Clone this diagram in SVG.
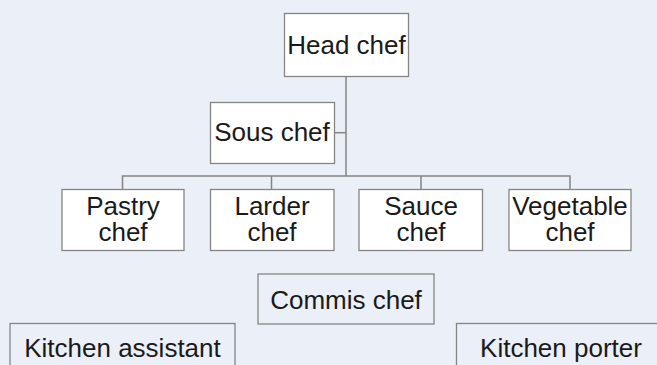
<svg xmlns="http://www.w3.org/2000/svg" width="657" height="365" viewBox="0 0 657 365">
<style>
.box{fill:#ffffff;stroke:#858585;stroke-width:1.3}
.plain{fill:#eaeff8;stroke:#858585;stroke-width:1.3}
.t{font-family:"Liberation Sans",Arial,sans-serif;font-size:26px;fill:#1a1a1a;text-anchor:middle}
.c{fill:none;stroke:#858585;stroke-width:1.5}
</style>
<rect x="0" y="0" width="657" height="365" fill="#eaeff8"/>
<g id="connectors">
<path class="c" d="M346 76 V176" stroke-width="2"/>
<path class="c" d="M334 132.7 H346"/>
<path class="c" d="M122.5 189 V176 H570 V189"/>
<path class="c" d="M271.5 176 V189"/>
<path class="c" d="M421 176 V189"/>
</g>
<g id="head-chef"><rect class="box" x="284.5" y="13.5" width="124" height="63"/><text class="t" x="346.5" y="53.5">Head chef</text></g>
<g id="sous-chef"><rect class="box" x="210.5" y="102.5" width="124" height="61"/><text class="t" x="272" y="140.5">Sous chef</text></g>
<g id="pastry-chef"><rect class="box" x="62" y="189.5" width="122" height="61"/><text class="t" x="123" y="214.5">Pastry</text><text class="t" x="123" y="240.5">chef</text></g>
<g id="larder-chef"><rect class="box" x="210.5" y="189.5" width="123.5" height="61"/><text class="t" x="272" y="214.5">Larder</text><text class="t" x="272" y="240.5">chef</text></g>
<g id="sauce-chef"><rect class="box" x="359" y="189.5" width="123.5" height="61"/><text class="t" x="421" y="214.5">Sauce</text><text class="t" x="421" y="240.5">chef</text></g>
<g id="vegetable-chef"><rect class="box" x="509" y="189.5" width="122" height="61"/><text class="t" x="570" y="214.5">Vegetable</text><text class="t" x="570" y="240.5">chef</text></g>
<g id="commis-chef"><rect class="plain" x="258" y="274" width="176" height="50"/><text class="t" x="346" y="308.5">Commis chef</text></g>
<g id="kitchen-assistant"><rect class="plain" x="10" y="323.5" width="225" height="60"/><text class="t" x="122.5" y="356.5">Kitchen assistant</text></g>
<g id="kitchen-porter"><rect class="plain" x="456.5" y="323.5" width="210" height="60"/><text class="t" x="561" y="356.5">Kitchen porter</text></g>
</svg>
